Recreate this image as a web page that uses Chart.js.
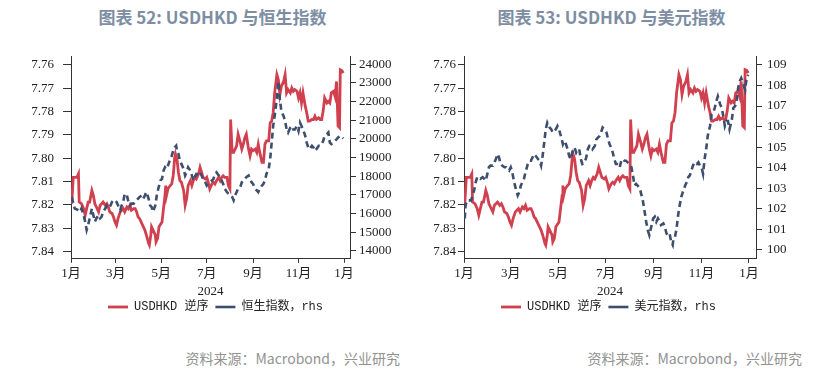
<!DOCTYPE html>
<html>
<head>
<meta charset="utf-8">
<script src="https://cdn.jsdelivr.net/npm/chart.js@4/dist/chart.umd.min.js"></script>
<style>
  body { margin: 0; background: #fff; }
  #wrap { position: relative; width: 838px; height: 373px; overflow: hidden; font-family: "Noto Sans CJK SC", sans-serif; }
  .title { position: absolute; top: 7px; width: 419px; text-align: center; font-size: 17px; line-height: 20px; font-weight: bold; color: #7d8ea3; }
  .box { position: absolute; top: 40px; width: 419px; height: 283px; }
  .src { position: absolute; top: 349px; font-size: 14px; line-height: 18px; color: #929292; }
</style>
</head>
<body>
<div id="wrap">
  <div class="title" style="left:3px">图表 52: USDHKD 与恒生指数</div>
  <div class="title" style="left:402px">图表 53: USDHKD 与美元指数</div>
  <div class="box" style="left:0"><canvas id="c1" width="419" height="283"></canvas></div>
  <div class="box" style="left:419px"><canvas id="c2" width="419" height="283"></canvas></div>
  <div class="src" style="right:438px">资料来源：Macrobond，兴业研究</div>
  <div class="src" style="right:36px">资料来源：Macrobond，兴业研究</div>
</div>
<script>
// days counted from 2024-01-01
const monthTicks = [0, 60, 121, 182, 244, 305, 366];
const monthLabels = ["1月", "3月", "5月", "7月", "9月", "11月", "1月"];
const yearLabel = "2024";

const hkdTicks = [7.76, 7.77, 7.78, 7.79, 7.80, 7.81, 7.82, 7.83, 7.84];
const hsiTicks = [14000, 15000, 16000, 17000, 18000, 19000, 20000, 21000, 22000, 23000, 24000];
const dxyTicks = [100, 101, 102, 103, 104, 105, 106, 107, 108, 109];

const hkdDays = [
  1, 3, 5, 8, 10, 11, 14, 17, 19, 21,
  23, 25, 28, 30, 32, 34, 37, 39, 41, 43,
  46, 48, 50, 52, 55, 57, 59, 61, 63, 66,
  68, 70, 72, 75, 77, 79, 81, 84, 86, 88,
  90, 92, 95, 97, 99, 101, 104, 105, 107, 108,
  110, 113, 114, 116, 118, 122, 124, 126, 127, 128,
  130, 133, 135, 137, 139, 140, 142, 144, 146, 148,
  151, 153, 154, 155, 157, 160, 162, 164, 166, 168,
  171, 173, 175, 177, 180, 182, 184, 186, 189, 191,
  193, 195, 198, 200, 202, 204, 206, 209, 211, 213,
  214, 216, 218, 220, 222, 224, 227, 229, 231, 233,
  235, 238, 240, 242, 244, 247, 249, 251, 253, 256,
  258, 260, 262, 265, 267, 269, 271, 273, 276, 278,
  280, 282, 285, 287, 289, 291, 294, 296, 298, 300,
  303, 305, 307, 309, 311, 314, 316, 318, 320, 323,
  325, 327, 329, 332, 334, 336, 338, 340, 343, 345,
  347, 349, 352, 354, 356, 358, 360, 361, 363, 365
];
const hkdValues = [
  7.8195, 7.8082, 7.8082, 7.8082, 7.8067, 7.8188, 7.8195, 7.8216, 7.8244, 7.8216,
  7.8188, 7.8188, 7.8138, 7.8160, 7.8195, 7.8209, 7.8230, 7.8202, 7.8195, 7.8188,
  7.8202, 7.8195, 7.8209, 7.8230, 7.8237, 7.8252, 7.8273, 7.8287, 7.8259, 7.8230,
  7.8223, 7.8216, 7.8230, 7.8209, 7.8216, 7.8202, 7.8223, 7.8216, 7.8216, 7.8230,
  7.8252, 7.8259, 7.8280, 7.8294, 7.8308, 7.8329, 7.8365, 7.8372, 7.8329, 7.8294,
  7.8308, 7.8329, 7.8358, 7.8344, 7.8294, 7.8273, 7.8216, 7.8160, 7.8117, 7.8160,
  7.8131, 7.8117, 7.8110, 7.8075, 7.7997, 7.7982, 7.8004, 7.8060, 7.8096, 7.8103,
  7.8138, 7.8202, 7.8202, 7.8174, 7.8117, 7.8096, 7.8117, 7.8096, 7.8082, 7.8089,
  7.8067, 7.8039, 7.8060, 7.8082, 7.8089, 7.8082, 7.8103, 7.8131, 7.8110, 7.8103,
  7.8110, 7.8096, 7.8082, 7.8096, 7.8082, 7.8075, 7.8082, 7.8082, 7.8117, 7.8131,
  7.7834, 7.7975, 7.7975, 7.7961, 7.7947, 7.7897, 7.7933, 7.7961, 7.7940, 7.7912,
  7.7897, 7.7961, 7.7990, 7.7961, 7.7968, 7.7961, 7.7975, 7.7940, 7.7975, 7.8018,
  7.8018, 7.7940, 7.7926, 7.7926, 7.7848, 7.7841, 7.7805, 7.7720, 7.7642, 7.7664,
  7.7727, 7.7692, 7.7671, 7.7642, 7.7720, 7.7706, 7.7720, 7.7699, 7.7713, 7.7706,
  7.7713, 7.7742, 7.7720, 7.7763, 7.7720, 7.7777, 7.7805, 7.7841, 7.7841, 7.7834,
  7.7834, 7.7820, 7.7834, 7.7827, 7.7834, 7.7834, 7.7798, 7.7742, 7.7763, 7.7756,
  7.7763, 7.7720, 7.7713, 7.7735, 7.7671, 7.7862, 7.7869, 7.7621, 7.7624, 7.7635
];

const hsiDays = [
  1, 5, 10, 12, 14, 17, 19, 21, 23, 25,
  28, 30, 32, 34, 37, 39, 41, 43, 46, 48,
  50, 52, 55, 57, 59, 61, 63, 66, 68, 70,
  72, 75, 77, 79, 81, 84, 86, 88, 90, 92,
  95, 97, 99, 101, 104, 106, 108, 110, 113, 115,
  117, 120, 122, 124, 126, 128, 130, 133, 135, 137,
  139, 141, 142, 144, 146, 148, 151, 153, 155, 157,
  160, 162, 164, 166, 168, 171, 173, 175, 177, 180,
  182, 184, 186, 189, 191, 193, 195, 198, 200, 202,
  204, 206, 209, 211, 213, 216, 218, 220, 222, 224,
  227, 229, 231, 233, 235, 238, 240, 242, 244, 247,
  249, 251, 253, 256, 258, 260, 262, 265, 267, 269,
  271, 273, 276, 278, 280, 282, 285, 287, 289, 291,
  294, 296, 298, 300, 303, 305, 307, 309, 311, 314,
  316, 318, 320, 323, 325, 327, 329, 332, 334, 336,
  338, 340, 343, 345, 347, 349, 352, 354, 356, 358,
  361, 363, 365
];
const hsiValues = [
  16890, 16270, 16180, 16090, 16270, 15910, 15560, 15120, 15380, 15740,
  16270, 15910, 15560, 15740, 15910, 15740, 15820, 16090, 16270, 16440,
  16350, 16350, 16620, 16710, 16710, 16620, 16440, 16180, 16440, 16620,
  17060, 16970, 16620, 16440, 16530, 16530, 16620, 16710, 16800, 16890,
  16970, 16800, 16970, 17150, 16800, 16440, 16350, 16090, 16440, 16970,
  17330, 17770, 17860, 18300, 18480, 18390, 18570, 18920, 19100, 19360,
  19540, 19630, 19360, 19190, 18830, 18660, 18390, 18040, 18210, 18480,
  18300, 18040, 17770, 17950, 18120, 18070, 18210, 18040, 17860, 17680,
  17500, 17590, 17680, 17770, 17860, 18120, 18210, 18040, 17950, 17770,
  17590, 17330, 17150, 17060, 16970, 16890, 16710, 16970, 17150, 17330,
  17420, 17680, 17770, 17860, 17950, 18040, 17860, 17680, 17590, 17330,
  17240, 17150, 17330, 17500, 17590, 17770, 18120, 18390, 18920, 19800,
  20690, 21220, 22200, 23080, 22110, 21490, 21220, 20960, 20510, 20340,
  20600, 20690, 20510, 20510, 20690, 20430, 20870, 20690, 20510, 20160,
  19800, 19540, 19450, 19630, 19540, 19360, 19450, 19630, 19630, 19720,
  19890, 20160, 20250, 20340, 19800, 19720, 19800, 19890, 19980, 20070,
  20160, 20120, 20020
];

const dxyDays = [
  1, 2, 4, 6, 9, 11, 13, 15, 17, 19,
  21, 24, 26, 28, 30, 32, 34, 37, 39, 41,
  43, 45, 47, 49, 52, 54, 56, 58, 60, 62,
  64, 67, 69, 71, 73, 75, 77, 79, 82, 84,
  86, 88, 90, 92, 95, 97, 99, 101, 103, 105,
  107, 110, 112, 114, 116, 118, 120, 122, 125, 127,
  129, 131, 133, 135, 137, 140, 142, 144, 146, 148,
  150, 152, 155, 157, 159, 161, 163, 165, 168, 170,
  172, 174, 176, 178, 180, 183, 185, 187, 189, 191,
  193, 195, 198, 200, 202, 204, 206, 208, 210, 213,
  215, 217, 219, 221, 223, 226, 228, 230, 232, 234,
  236, 238, 241, 243, 245, 247, 249, 251, 253, 256,
  258, 260, 262, 264, 266, 268, 269, 271, 273, 275,
  277, 279, 281, 284, 286, 288, 290, 292, 294, 296,
  299, 301, 303, 305, 307, 309, 311, 313, 316, 318,
  320, 322, 324, 326, 329, 331, 333, 335, 337, 339,
  341, 344, 346, 348, 350, 352, 354, 356, 359, 361,
  363, 365
];
const dxyValues = [
  101.53, 102.17, 102.41, 102.41, 102.41, 102.65, 102.89, 103.29, 103.54, 103.54,
  103.46, 103.54, 103.46, 103.37, 103.70, 104.02, 104.10, 104.10, 104.26, 104.42,
  104.66, 104.50, 104.18, 104.10, 104.02, 104.02, 103.94, 103.86, 104.02, 103.78,
  103.37, 102.89, 102.65, 102.81, 103.13, 103.29, 103.46, 103.78, 104.18, 104.34,
  104.34, 104.50, 104.66, 104.58, 104.42, 104.34, 104.10, 104.58, 105.22, 105.87,
  106.19, 105.95, 105.87, 105.71, 105.79, 105.87, 106.03, 105.87, 105.46, 105.14,
  105.30, 105.14, 104.90, 104.58, 104.42, 104.90, 104.98, 104.74, 104.90, 104.90,
  104.42, 104.18, 104.26, 104.50, 104.90, 105.06, 105.06, 104.90, 105.06, 105.38,
  105.46, 105.54, 105.71, 105.95, 105.87, 105.71, 105.38, 105.14, 104.98, 104.74,
  104.42, 104.18, 104.18, 104.02, 104.34, 104.42, 104.34, 104.34, 104.26, 104.18,
  104.02, 103.62, 103.13, 103.21, 103.13, 102.97, 102.65, 102.33, 101.85, 101.37,
  100.96, 100.72, 101.21, 101.53, 101.61, 101.37, 101.53, 101.37, 101.21, 101.29,
  101.12, 100.80, 100.72, 100.80, 100.40, 100.24, 100.56, 100.64, 101.04, 101.69,
  102.17, 102.57, 102.81, 103.13, 103.29, 103.54, 103.62, 103.86, 104.10, 104.26,
  104.18, 104.26, 104.10, 104.02, 103.70, 104.42, 104.90, 105.54, 106.03, 106.59,
  106.67, 106.91, 107.23, 107.47, 107.07, 106.91, 106.51, 106.03, 106.27, 106.27,
  105.87, 106.35, 106.91, 106.99, 107.15, 107.87, 108.20, 108.36, 108.04, 107.79,
  108.36, 108.52
];

const RED = "#d0404f";
const NAVY = "#3d4e6e";
const SERIF = "'Liberation Serif', 'Noto Sans CJK SC', serif";
const MONO = "'Liberation Mono', 'Noto Sans CJK SC', monospace";

function pts(xs, ys) {
  return xs.map((x, i) => ({ x: x, y: ys[i] }));
}

function setTicks(list) {
  return function (scale) {
    scale.ticks = list.map(v => ({ value: v }));
  };
}

function makeChart(id, o) {
  return new Chart(document.getElementById(id), {
    type: "line",
    data: {
      datasets: [
        {
          label: "USDHKD 逆序",
          data: pts(hkdDays, hkdValues),
          yAxisID: "y",
          borderColor: RED,
          backgroundColor: RED,
          borderWidth: 2.8,
          pointRadius: 0,
          order: 1,
        },
        {
          label: o.rhsLabel,
          data: pts(o.days, o.values),
          yAxisID: "y1",
          borderColor: NAVY,
          backgroundColor: NAVY,
          borderWidth: 2.6,
          borderDash: [6, 4],
          pointRadius: 0,
          order: 0,
        },
      ],
    },
    options: {
      responsive: false,
      animation: false,
      devicePixelRatio: 1,
      layout: { padding: o.padding },
      plugins: {
        tooltip: { enabled: false },
        legend: {
          position: "bottom",
          labels: {
            usePointStyle: true,
            pointStyle: "line",
            pointStyleWidth: 20,
            padding: 7,
            color: "#222",
            font: { family: MONO, size: 12 },
            sort: (a, b) => a.datasetIndex - b.datasetIndex,
          },
        },
      },
      scales: {
        x: {
          type: "linear",
          min: 0,
          max: o.xMax,
          afterBuildTicks: setTicks(monthTicks),
          ticks: {
            autoSkip: false,
            maxRotation: 0,
            padding: 3,
            color: "#222",
            font: { family: SERIF, size: 13 },
            callback: (v, i) => monthLabels[i],
          },
          grid: { drawOnChartArea: false, tickLength: 4, color: "#333" },
          border: { color: "#333", width: 1 },
          title: {
            display: true,
            text: yearLabel,
            color: "#222",
            font: { family: SERIF, size: 13 },
            padding: { top: -1, bottom: -5 },
          },
        },
        y: {
          position: "left",
          reverse: true,
          min: 7.7562,
          max: 7.8431,
          afterBuildTicks: setTicks(hkdTicks),
          afterFit: s => { s.width = o.leftW; s.paddingTop = 0; s.paddingBottom = 0; },
          ticks: {
            padding: o.leftPad,
            color: "#222",
            font: { family: SERIF, size: 13 },
            callback: v => v.toFixed(2),
          },
          grid: { drawOnChartArea: false, tickLength: o.leftTick, color: "#333" },
          border: { color: "#333", width: 1 },
        },
        y1: {
          position: "right",
          min: o.rMin,
          max: o.rMax,
          afterBuildTicks: setTicks(o.rTicks),
          afterFit: s => { s.width = o.rightW; s.paddingTop = 0; s.paddingBottom = 0; },
          ticks: {
            padding: o.rightPad,
            color: "#222",
            font: { family: SERIF, size: 13 },
            callback: v => String(v),
          },
          grid: { drawOnChartArea: false, tickLength: 6, color: "#333" },
          border: { color: "#333", width: 1 },
        },
      },
    },
  });
}

makeChart("c1", {
  rhsLabel: "恒生指数，rhs",
  days: hsiDays,
  values: hsiValues,
  rTicks: hsiTicks,
  rMin: 13575,
  rMax: 24441,
  xMax: 374,
  padding: { top: 16, left: 12, right: 0, bottom: 0 },
  leftW: 59,
  leftTick: 8,
  leftPad: 9,
  rightW: 69,
  rightPad: 3,
});

makeChart("c2", {
  rhsLabel: "美元指数，rhs",
  days: dxyDays,
  values: dxyValues,
  rTicks: dxyTicks,
  rMin: 99.566,
  rMax: 109.434,
  xMax: 375,
  padding: { top: 16, left: 0, right: 40, bottom: 0 },
  leftW: 45,
  leftTick: 6,
  leftPad: 2,
  rightW: 42,
  rightPad: 5,
});
</script>
</body>
</html>
